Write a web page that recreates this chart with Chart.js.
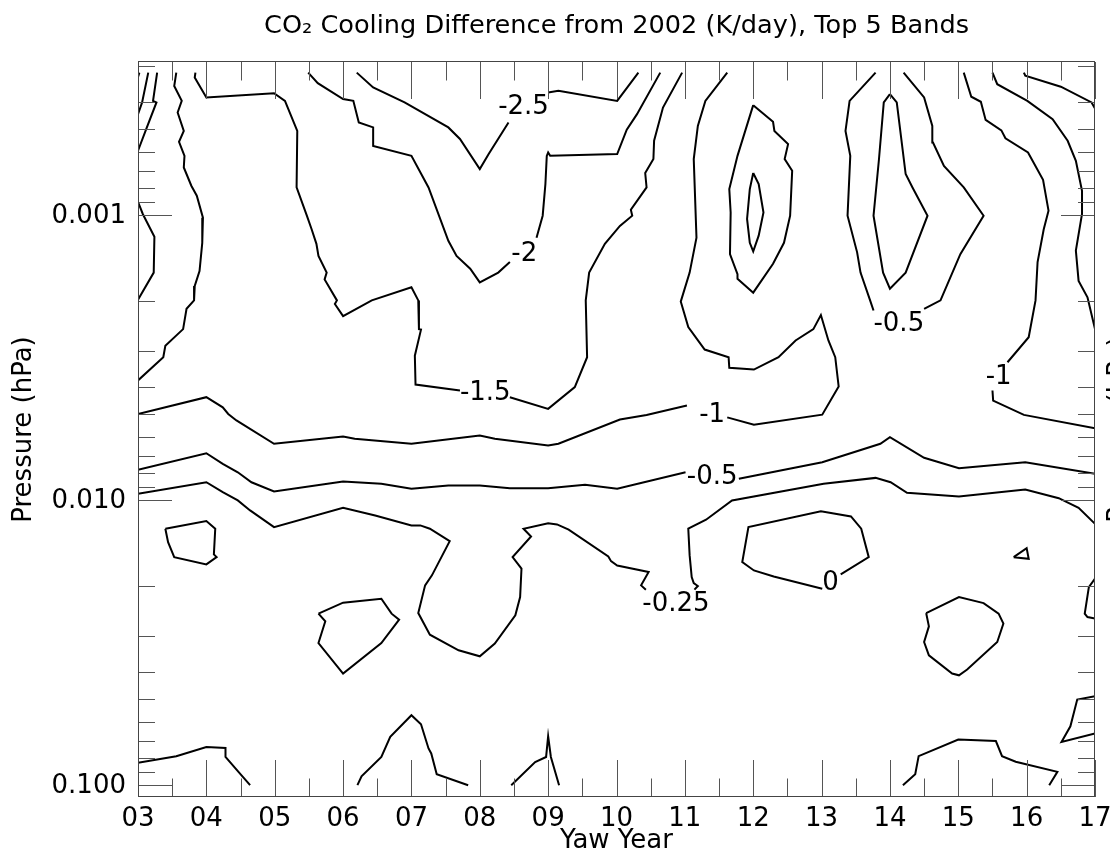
<!DOCTYPE html>
<html>
<head>
<meta charset="utf-8">
<script src="https://cdn.jsdelivr.net/npm/chart.js@4.4.1/dist/chart.umd.min.js"></script>
<style>
  html, body { margin: 0; padding: 0; background: #fff; }
  canvas { display: block; }
</style>
</head>
<body>
<canvas id="chart" width="1110" height="852"></canvas>
<script>
// Contour lines of the CO2 cooling difference, each point = [yaw year (20xx), pressure (hPa)]

// short pieces along the left edge, top
const edgeA = [[3.02,0.000316],[3.00,0.000327]];
const edgeB = [[3.15,0.000316],[3.06,0.000402],[3.00,0.000442]];
const edgeC = [[3.28,0.000316],[3.22,0.000397],[3.27,0.000402],[3.12,0.000499],[3.00,0.000594]];
const edgeLoop = [[3.00,0.000897],[3.07,0.000990],[3.24,0.00119],[3.23,0.00159],[3.00,0.00198]];
const leftLine = [[3.56,0.000316],[3.53,0.000352],[3.64,0.000397],[3.58,0.000436],[3.67,0.000506],[3.60,0.000553],
  [3.68,0.000619],[3.67,0.000680],[3.78,0.000788],[3.86,0.000854],[3.95,0.00102],[3.94,0.00125],[3.90,0.00157],
  [3.83,0.00177],[3.82,0.00199],[3.71,0.00213],[3.66,0.00251],[3.40,0.00287],[3.37,0.00315],[3.00,0.00380]];

// -1.5 K/day
const m15a = [[3.84,0.000316],[3.83,0.000329],[4.00,0.000386],[4.99,0.000373],[5.15,0.000397],[5.33,0.000506],
  [5.32,0.000799],[5.47,0.001004],[5.54,0.00112],[5.61,0.00126],[5.64,0.00139],[5.76,0.00159],[5.73,0.00168],
  [5.91,0.00199],[5.88,0.00205],[6.00,0.00226],[6.42,0.00199],[7.00,0.00179],[7.10,0.00199],[7.11,0.00251],
  [7.14,0.00252],[7.05,0.00311],[7.06,0.00393],[7.71,0.00412]];
const m15b = [[8.44,0.00435],[9.00,0.00478],[9.39,0.00401],[9.57,0.00315],[9.55,0.00199],[9.60,0.00159],
  [9.83,0.00126],[10.05,0.00109],[10.23,0.001004],[10.21,0.000957],[10.44,0.000799],[10.42,0.000711],
  [10.54,0.000635],[10.55,0.000548],[10.68,0.000419],[10.96,0.000316]];

// -2 K/day
const m2a = [[5.49,0.000316],[5.63,0.000344],[6.00,0.000391],[6.15,0.000397],[6.23,0.000473],[6.44,0.000492],
  [6.44,0.000571],[7.00,0.000619],[7.25,0.000799],[7.54,0.00123],[7.66,0.00139],[7.86,0.00154],[8.00,0.00172],
  [8.27,0.00159],[8.44,0.00146]];
const m2b = [[8.83,0.00120],[8.92,0.001004],[8.96,0.000777],[8.98,0.000619],[9.00,0.000602],[9.03,0.000619],
  [10.01,0.000610],[10.15,0.000501],[10.30,0.000442],[10.64,0.000316]];

// -2.5 K/day
const m25a = [[6.20,0.000316],[6.44,0.000356],[6.90,0.000402],[7.54,0.000492],[7.71,0.000540],[8.00,0.000689],
  [8.13,0.000610],[8.42,0.000473]];
const m25b = [[9.00,0.000371],[9.15,0.000366],[10.01,0.000397],[10.32,0.000316]];

// -1 K/day
const m1a = [[3.00,0.00498],[4.00,0.00435],[4.24,0.00472],[4.32,0.00498],[4.44,0.00525],[4.99,0.00634],
  [6.00,0.00598],[6.17,0.00609],[7.00,0.00634],[8.00,0.00593],[8.22,0.00609],[9.00,0.00643],[9.15,0.00634],
  [10.05,0.00521],[10.44,0.00502],[11.03,0.00465]];
const m1b = [[11.62,0.00512],[12.01,0.00543],[13.01,0.00501],[13.25,0.00399],[13.20,0.00315],[13.10,0.00275],
  [12.99,0.00224],[12.88,0.00251],[12.62,0.00275],[12.37,0.00315],[12.01,0.00348],[11.65,0.00343],[11.64,0.00315],
  [11.29,0.00296],[11.05,0.00247],[10.94,0.00201],[11.07,0.00159],[11.17,0.00120],[11.13,0.000635],
  [11.19,0.000486],[11.30,0.000397],[11.62,0.000316]];
const m1Ra = [[15.08,0.000316],[15.19,0.000384],[15.33,0.000400],[15.40,0.000463],[15.63,0.000504],
  [15.69,0.000537],[16.02,0.000602],[16.24,0.000751],[16.32,0.000964],[16.25,0.00112],[16.16,0.00146],
  [16.13,0.00199],[16.03,0.00268],[15.72,0.00328]];
const m1Rb = [[15.50,0.00412],[15.51,0.00447],[15.96,0.00502],[17.00,0.00559]];

// lines reaching the right edge, top
const right1 = [[15.50,0.000316],[15.57,0.000347],[16.01,0.000397],[16.38,0.000460],[16.60,0.000548],
  [16.72,0.000644],[16.81,0.000821],[16.81,0.000990],[16.72,0.00133],[16.76,0.00170],[16.89,0.00194],[17.00,0.00251]];
const right2 = [[15.96,0.000316],[15.98,0.000324],[16.50,0.000354],[16.95,0.000402],[17.00,0.000422]];

// -0.5 K/day around 2014 and the closed loops at 2012 and 2014
const m05Ua = [[13.79,0.000316],[13.41,0.000397],[13.35,0.000506],[13.42,0.000619],[13.38,0.001004],
  [13.52,0.00135],[13.57,0.00159],[13.71,0.00199],[13.76,0.00216]];
const m05Ub = [[14.50,0.00213],[14.74,0.00199],[15.03,0.00137],[15.37,0.001004],[15.08,0.000799],
  [14.79,0.000671],[14.63,0.000556],[14.62,0.000486],[14.50,0.000386],[14.20,0.000316]];
const loop14 = [[14.00,0.000376],[14.10,0.000402],[14.23,0.000717],[14.33,0.000799],[14.55,0.001004],
  [14.23,0.00159],[14.00,0.00181],[13.90,0.00159],[13.76,0.001004],[13.84,0.000635],[13.91,0.000402],[14.00,0.000376]];
const loop12Outer = [[12.00,0.000411],[12.29,0.000470],[12.31,0.000506],[12.51,0.000563],[12.46,0.000635],
  [12.57,0.000698],[12.54,0.001004],[12.45,0.00125],[12.29,0.00148],[12.00,0.00187],[11.77,0.00167],
  [11.77,0.00161],[11.66,0.00137],[11.67,0.000978],[11.65,0.000810],[11.77,0.000619],[12.00,0.000411]];
const loop12Inner = [[12.00,0.000711],[12.08,0.000777],[12.15,0.000978],[12.08,0.00118],[12.00,0.00134],
  [11.95,0.00125],[11.91,0.00103],[11.95,0.000810],[12.00,0.000711]];

// -0.5 K/day band
const m05a = [[3.00,0.00782],[4.00,0.00684],[4.24,0.00745],[4.46,0.00798],[4.66,0.00865],[4.99,0.00932],
  [6.00,0.00860],[6.56,0.00876],[7.00,0.00912],[7.54,0.00888],[8.00,0.00888],[8.44,0.00907],[9.00,0.00907],
  [9.54,0.00883],[10.01,0.00912],[11.01,0.00798]];
const m05b = [[11.79,0.00841],[13.01,0.00736],[13.86,0.00634],[14.00,0.00601],[14.50,0.00710],[15.01,0.00772],
  [15.98,0.00736],[17.00,0.00808]];

// -0.25 K/day
const m025a = [[3.00,0.00949],[4.00,0.00865],[4.24,0.00937],[4.46,0.01002],[4.64,0.01086],[4.99,0.01243],
  [6.00,0.01063],[6.47,0.01131],[7.00,0.01226],[7.13,0.01226],[7.27,0.01259],[7.56,0.01392],[7.30,0.01835],
  [7.20,0.0199],[7.10,0.02489],[7.27,0.02963],[7.69,0.03363],[8.00,0.0353],[8.22,0.03186],[8.52,0.02535],
  [8.59,0.02187],[8.61,0.01739],[8.48,0.01584],[8.75,0.0134],[8.64,0.01259],[9.00,0.01204],[9.13,0.01216],
  [9.30,0.01269],[9.88,0.01575],[9.92,0.01636],[10.01,0.01694],[10.47,0.01787],[10.36,0.0199],[10.43,0.0206]];
const m025b = [[11.14,0.0206],[11.19,0.02001],[11.13,0.01954],[11.10,0.01861],[11.07,0.01562],[11.05,0.01259],
  [11.31,0.01171],[11.69,0.01002],[13.03,0.00876],[13.79,0.00835],[14.01,0.00865],[14.25,0.00942],
  [15.01,0.0097],[15.98,0.00917],[16.47,0.00984],[16.76,0.01063],[17.00,0.0121]];

// small closed contours in the lower half
const loopA = [[3.40,0.01259],[4.00,0.01184],[4.13,0.01259],[4.11,0.0155],[4.15,0.01584],[4.00,0.0168],
  [3.53,0.01584],[3.44,0.01403],[3.40,0.01259]];
const loopB = [[5.64,0.02501],[6.00,0.02288],[6.56,0.02216],[6.71,0.02501],[6.82,0.02625],[6.56,0.0317],
  [6.00,0.04058],[5.64,0.0317],[5.74,0.02661],[5.64,0.02501]];
const zeroLine = [[13.28,0.01821],[13.69,0.01584],[13.58,0.01259],[13.43,0.0114],[12.99,0.01093],[11.93,0.01243],
  [11.84,0.01649],[12.01,0.01764],[12.30,0.01851],[13.01,0.02044]];
const tinyLoop = [[15.81,0.01584],[16.00,0.01473],[16.03,0.01605],[15.81,0.01584]];
const loopC = [[14.53,0.02489],[15.01,0.02187],[15.37,0.02296],[15.59,0.02501],[15.66,0.02711],[15.57,0.03145],
  [15.13,0.03929],[15.01,0.04115],[14.91,0.04058],[14.57,0.03501],[14.50,0.03145],[14.57,0.02771],[14.53,0.02489]];
const edgeD = [[17.00,0.01885],[16.91,0.02017],[16.85,0.02501],[16.89,0.0257],[17.00,0.02603]];
const edgeE = [[17.00,0.04875],[16.74,0.05007],[16.64,0.06212],[16.51,0.0705],[17.00,0.06586]];

// pieces near the 0.1 hPa level
const base1 = [[3.00,0.0835],[3.56,0.0791],[4.00,0.0734],[4.28,0.0740],[4.28,0.0796],[4.47,0.0898],[4.64,0.1]];
const base2 = [[6.21,0.1],[6.27,0.0930],[6.56,0.0796],[6.69,0.0677],[7.00,0.0568],[7.14,0.0611],[7.25,0.0743],
  [7.29,0.0774],[7.37,0.0915],[7.83,0.1]];
const base3 = [[8.46,0.1],[8.81,0.0829],[8.97,0.0796],[9.00,0.0673],[9.04,0.0796],[9.16,0.1]];
const base4 = [[14.19,0.1],[14.37,0.0915],[14.42,0.0791],[15.00,0.0691],[15.55,0.0700],[15.64,0.0791],
  [15.84,0.0827],[16.45,0.0898],[16.33,0.1]];

// contour level labels
const labelText = ['-2.5', '-2', '-1.5', '-1', '-0.5', '-1', '-0.5', '-0.25', '0'];
const labelYear = [8.64, 8.65, 8.08, 11.40, 14.13, 15.59, 11.40, 10.87, 13.13];
const labelP    = [0.000419, 0.00137, 0.00420, 0.00505, 0.00241, 0.00370, 0.00831, 0.0231, 0.01954];

// axes
const xRange = [3, 17];
const pRange = [0.00029, 0.11];
const yTickValues = [0.001, 0.01, 0.1];
const yTickLabels = ['0.001', '0.010', '0.100'];
const chartTitle = 'CO\u2082 Cooling Difference from 2002 (K/day), Top 5 Bands';

const contourLines = [edgeA, edgeB, edgeC, edgeLoop, leftLine, m15a, m15b, m2a, m2b, m25a, m25b,
  m1a, m1b, m1Ra, m1Rb, right1, right2, m05Ua, m05Ub, loop14, loop12Outer, loop12Inner,
  m05a, m05b, m025a, m025b, loopA, loopB, zeroLine, tinyLoop, loopC, edgeD, edgeE,
  base1, base2, base3, base4];

const FONT = '"DejaVu Sans", "Liberation Sans", sans-serif';
const SIZE = 26;

// frame with inward ticks on all four sides, title, and the right-hand axis caption
const framePlugin = {
  id: 'frame',
  afterDraw(chart) {
    const { ctx, chartArea: { left, right, top, bottom }, scales: { x, y } } = chart;
    ctx.save();
    ctx.strokeStyle = '#555';
    ctx.lineWidth = 1;
    ctx.beginPath();
    for (let v = xRange[0]; v <= xRange[1] + 1e-9; v += 0.5) {
      const px = Math.round(x.getPixelForValue(v)) + 0.5;
      const len = Number.isInteger(v) ? 37 : 18.5;
      ctx.moveTo(px, bottom); ctx.lineTo(px, bottom - len);
      ctx.moveTo(px, top); ctx.lineTo(px, top + len);
    }
    const e0 = Math.floor(Math.log10(pRange[0]));
    const e1 = Math.ceil(Math.log10(pRange[1]));
    for (let e = e0; e <= e1; e++) {
      for (let k = 1; k <= 9; k++) {
        const v = k * Math.pow(10, e);
        if (v < pRange[0] || v > pRange[1]) continue;
        const py = Math.round(y.getPixelForValue(v)) + 0.5;
        const len = k === 1 ? 34 : 17;
        ctx.moveTo(left, py); ctx.lineTo(left + len, py);
        ctx.moveTo(right, py); ctx.lineTo(right - len, py);
      }
    }
    ctx.stroke();
    ctx.strokeStyle = '#444';
    ctx.strokeRect(left + 0.5, top - 0.5, right - left - 1, bottom - top);

    ctx.fillStyle = '#000';
    ctx.font = '25.6px ' + FONT;
    ctx.textAlign = 'center';
    ctx.textBaseline = 'alphabetic';
    ctx.fillText(chartTitle, (left + right) / 2, 33);

    ctx.font = SIZE + 'px ' + FONT;
    ctx.translate(1119, (top + bottom) / 2);
    ctx.rotate(-Math.PI / 2);
    ctx.textBaseline = 'middle';
    ctx.fillText('Pressure (hPa)', 0, 0);
    ctx.restore();
  }
};

// level labels placed on the contour gaps
const labelPlugin = {
  id: 'contourLabels',
  afterDatasetsDraw(chart) {
    const { ctx, scales: { x, y } } = chart;
    ctx.save();
    ctx.fillStyle = '#000';
    ctx.font = SIZE + 'px ' + FONT;
    ctx.textAlign = 'center';
    ctx.textBaseline = 'middle';
    labelText.forEach((t, i) => {
      ctx.fillText(t, x.getPixelForValue(labelYear[i]), y.getPixelForValue(labelP[i]));
    });
    ctx.restore();
  }
};

const datasets = contourLines.map(line => ({
  data: line.map(([yr, p]) => ({ x: yr, y: p })),
  showLine: true,
  borderColor: '#000',
  borderWidth: 2,
  pointRadius: 0,
  pointHoverRadius: 0,
  fill: false,
  tension: 0
}));

new Chart(document.getElementById('chart'), {
  type: 'scatter',
  data: { datasets },
  plugins: [labelPlugin, framePlugin],
  options: {
    responsive: false,
    animation: false,
    events: [],
    layout: { padding: { top: 62, right: 15, bottom: 0, left: 0 } },
    plugins: {
      legend: { display: false },
      tooltip: { enabled: false },
      title: { display: false }
    },
    scales: {
      x: {
        type: 'linear',
        position: 'bottom',
        min: xRange[0],
        max: xRange[1],
        bounds: 'data',
        grid: { display: false, drawTicks: false },
        border: { display: false },
        ticks: {
          stepSize: 1,
          autoSkip: false,
          maxRotation: 0,
          padding: 7,
          color: '#000',
          font: { family: FONT, size: SIZE },
          callback: v => (v < 10 ? '0' : '') + v
        },
        title: {
          display: true,
          text: 'Yaw Year',
          color: '#000',
          font: { family: FONT, size: SIZE, lineHeight: 0.85 },
          padding: { top: 0, bottom: 0 }
        },
        afterFit(s) { s.height = 55; s.paddingLeft = 0; s.paddingRight = 0; }
      },
      y: {
        type: 'logarithmic',
        position: 'left',
        reverse: true,
        min: pRange[0],
        max: pRange[1],
        bounds: 'data',
        grid: { display: false, drawTicks: false },
        border: { display: false },
        afterBuildTicks(s) { s.ticks = yTickValues.map(v => ({ value: v })); },
        ticks: {
          autoSkip: false,
          padding: 12,
          labelOffset: 1,
          color: '#000',
          font: { family: FONT, size: SIZE },
          callback: (v, i) => yTickLabels[i]
        },
        title: {
          display: true,
          text: 'Pressure (hPa)',
          color: '#000',
          font: { family: FONT, size: SIZE },
          padding: { top: 9, bottom: 0 }
        },
        afterFit(s) { s.width = 138; s.paddingTop = 0; s.paddingBottom = 0; }
      }
    }
  }
});
</script>
</body>
</html>
